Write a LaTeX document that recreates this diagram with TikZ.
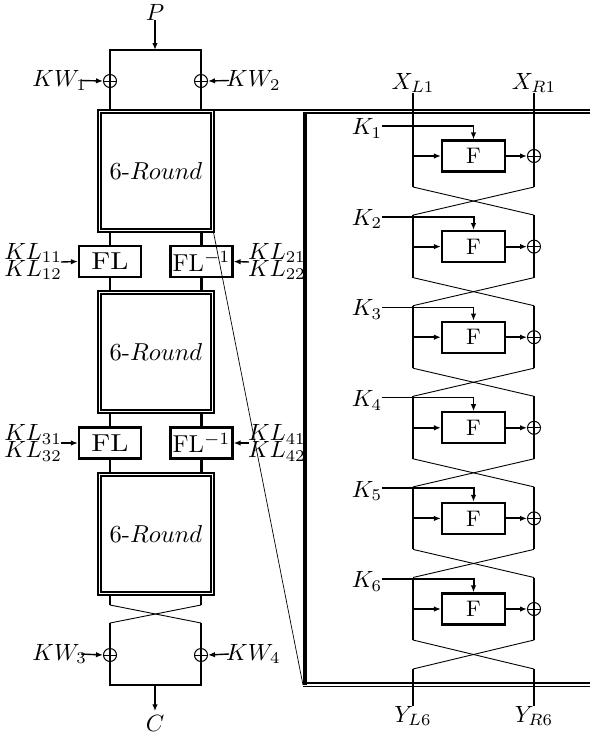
\documentclass[tikz,border=0pt]{standalone}
\usetikzlibrary{arrows.meta}
\newcommand{\sx}[1]{\scalebox{2.35}{#1}}
\begin{document}
\begin{tikzpicture}[x=1pt,y=-1pt,
  every node/.style={inner sep=0pt},
  xor/.style={circle,draw,line width=1pt,minimum size=13pt,
    path picture={\draw[line width=1pt]
      (path picture bounding box.north) -- (path picture bounding box.south)
      (path picture bounding box.west) -- (path picture bounding box.east);}},
  fbox/.style={draw,line width=2.2pt,minimum width=63pt,minimum height=31pt},
  flbox/.style={draw,line width=2.2pt,minimum width=62pt,minimum height=31pt},
  rbox/.style={draw,double,double distance=1.3pt,line width=1.6pt,
    minimum width=113pt,minimum height=119pt},
  wire/.style={line width=2.2pt},
  rwire/.style={line width=1.6pt},
  xline/.style={line width=0.9pt},
  arr/.style={-{Latex[length=7pt,width=5.5pt]}},
]
\useasboundingbox (0,0) rectangle (590,745);

% ---------- right frame ----------
\node[rbox] (b1) at (156,171) {\scalebox{2.45}{6-$Round$}};
\coordinate (ftl) at (303,110);
\coordinate (fbl) at (303,685);
\draw[line width=2.2pt] (b1.north east |- ftl) -- (590,110);
\draw[line width=1.8pt] (303,113.3) -- (590,113.3);
\draw[line width=4pt] (305,112) -- (305,685);
\draw[line width=2.4pt] (303,683) -- (590,683);
\draw[line width=1.2pt] (303,686.6) -- (590,686.6);
\draw[line width=0.7pt] (b1.south east) -- (fbl);

% ---------- left column ----------
\node (P) at (155,12) {\sx{$P$}};
\coordinate (tl) at (110,50);
\coordinate (tm) at (155,50);
\coordinate (tr) at (201,50);
\node[xor] (x1) at (110,81) {};
\node[xor] (x2) at (201,81) {};
\node[anchor=east] (kw1) at (87,80.5) {\sx{$KW_1$}};
\node[anchor=west] (kw2) at (226,80.5) {\sx{$KW_2$}};
\node[rbox] (b2) at (156,352) {\scalebox{2.45}{6-$Round$}};
\node[rbox] (b3) at (156,534) {\scalebox{2.45}{6-$Round$}};
\node[flbox] (fl1) at (110,261.5) {\scalebox{2.9}[2.45]{FL}};
\node[flbox] (fi1) at (201.5,261.5) {\scalebox{2.45}{FL$^{-1}$}};
\node[flbox] (fl2) at (110,443) {\scalebox{2.9}[2.45]{FL}};
\node[flbox] (fi2) at (201.5,443) {\scalebox{2.45}{FL$^{-1}$}};
\node[anchor=east] (kl11) at (62,253) {\sx{$KL_{11}$}};
\node[anchor=east] (kl12) at (62,270) {\sx{$KL_{12}$}};
\node[anchor=west] (kl21) at (248,253) {\sx{$KL_{21}$}};
\node[anchor=west] (kl22) at (248,270) {\sx{$KL_{22}$}};
\node[anchor=east] (kl31) at (62,434.5) {\sx{$KL_{31}$}};
\node[anchor=east] (kl32) at (62,451.5) {\sx{$KL_{32}$}};
\node[anchor=west] (kl41) at (248,434.5) {\sx{$KL_{41}$}};
\node[anchor=west] (kl42) at (248,451.5) {\sx{$KL_{42}$}};
\coordinate (ka1) at (61,262);
\coordinate (ka2) at (249,262);
\coordinate (ka3) at (61,443);
\coordinate (ka4) at (249,443);

\coordinate (c1) at (110,605);
\coordinate (c2) at (201,605);
\coordinate (d1) at (110,623);
\coordinate (d2) at (201,623);
\coordinate (e1) at (110,685);
\coordinate (e2) at (201,685);
\coordinate (em) at (155,685);
\node[xor] (x3) at (110,655) {};
\node[xor] (x4) at (201,655) {};
\node[anchor=east] (kw3) at (87,654) {\sx{$KW_3$}};
\node[anchor=west] (kw4) at (226,654) {\sx{$KW_4$}};
\node (C) at (155,723.5) {\sx{$C$}};

% left connectors
\draw[wire] (b1.north -| x1) -- (tl) -- (tr) -- (b1.north -| x2);
\draw[line width=1.4pt,arr] (P) -- (tm);
\draw[line width=1.4pt,arr] ([xshift=-6pt]kw1.east) -- (x1.west);
\draw[line width=1.4pt,arr] ([xshift=3pt]kw2.west) -- (x2.east);
\draw[wire] (b1.south -| fl1) -- (fl1);
\draw[wire] (b1.south -| fi1) -- (fi1);
\draw[wire] (fl1) -- (b2.north -| fl1);
\draw[wire] (fi1) -- (b2.north -| fi1);
\draw[wire] (b2.south -| fl2) -- (fl2);
\draw[wire] (b2.south -| fi2) -- (fi2);
\draw[wire] (fl2) -- (b3.north -| fl2);
\draw[wire] (fi2) -- (b3.north -| fi2);
\draw[line width=1.4pt,arr] (ka1) -- (fl1.west);
\draw[line width=1.4pt,arr] (ka2) -- (fi1.east);
\draw[line width=1.4pt,arr] (ka3) -- (fl2.west);
\draw[line width=1.4pt,arr] (ka4) -- (fi2.east);
\draw[wire] (b3.south -| c1) -- (c1);
\draw[wire] (b3.south -| c2) -- (c2);
\draw[xline] (c1) -- (d2);
\draw[xline] (c2) -- (d1);
\draw[wire] (d1) -- (e1) -- (e2) -- (d2);
\draw[line width=1.4pt,arr] ([xshift=-6pt]kw3.east) -- (x3.west);
\draw[line width=1.4pt,arr] ([xshift=3pt]kw4.west) -- (x4.east);
\draw[line width=1.4pt,arr] (em) -- ([yshift=4pt]C.north);

% ---------- right: six rounds ----------
\node (XL) at (413,83) {\sx{$X_{L1}$}};
\node (XR) at (534,83) {\sx{$X_{R1}$}};
\node (YL) at (413,716) {\sx{$Y_{L6}$}};
\node (YR) at (534,716) {\sx{$Y_{R6}$}};

\foreach \i/\kw in {1/1.2,2/2,3/1.2,4/1.2,5/2,6/2}{
  \pgfmathsetmacro{\yk}{126+(\i-1)*90.6}
  \pgfmathsetmacro{\yt}{\yk-1.5}
  \pgfmathsetmacro{\yb}{\yk+61}
  \node (K\i) at (367,\yk+2.5) {\sx{$K_{\i}$}};
  \node[fbox] (F\i) at (473.5,\yk+30) {\scalebox{2.25}{F}};
  \node[xor] (R\i) at (534,\yk+30) {};
  \coordinate (ks\i) at (382,\yk);
  \coordinate (la\i) at (413,\yk+30);
  \coordinate (Lt\i) at (413,\yt);
  \coordinate (Rt\i) at (534,\yt);
  \coordinate (Lb\i) at (413,\yb);
  \coordinate (Rb\i) at (534,\yb);
  \draw[line width=\kw pt,arr] (ks\i) -| (F\i.north);
  \draw[line width=2pt,arr] (la\i) -- (F\i.west);
  \draw[line width=2pt,arr] (F\i.east) -- (R\i.west);
}
\coordinate (Lt7) at (413,669);
\coordinate (Rt7) at (534,669);
\draw[rwire] (XL.south) -- (Lb1);
\draw[rwire] (XR.south) -- (Rb1);
\foreach \i in {2,...,6}{
  \draw[rwire] (Lt\i) -- (Lb\i);
  \draw[rwire] (Rt\i) -- (Rb\i);
}
\foreach \i/\j in {1/2,2/3,3/4,4/5,5/6,6/7}{
  \draw[xline] (Lb\i) -- (Rt\j);
  \draw[xline] (Rb\i) -- (Lt\j);
}
\draw[rwire] (Lt7) -- (YL.north);
\draw[rwire] (Rt7) -- (YR.north);
\end{tikzpicture}
\end{document}
